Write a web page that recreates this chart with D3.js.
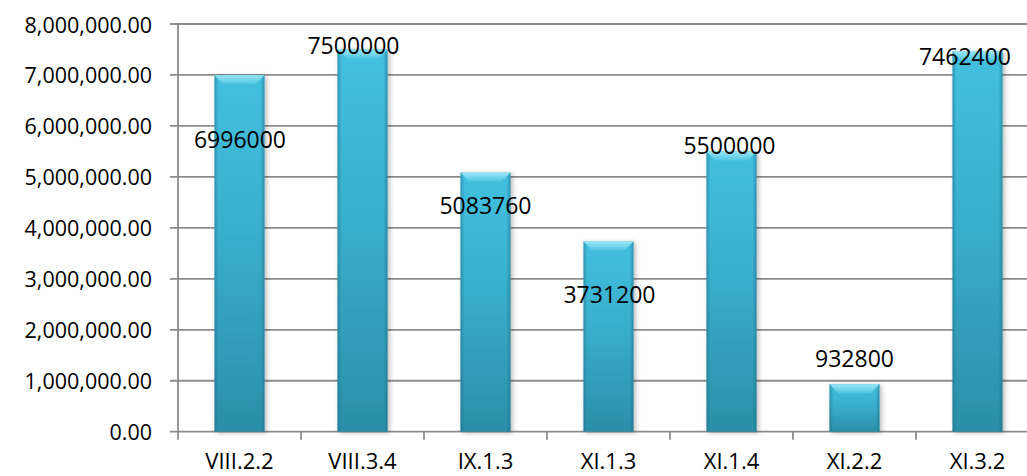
<!DOCTYPE html>
<html>
<head>
<meta charset="utf-8">
<script src="https://cdn.jsdelivr.net/npm/d3@7"></script>
<style>
  html, body { margin: 0; padding: 0; background: #fff; overflow: hidden; }
  svg { display: block; }
  text { font-family: "Open Sans", "Noto Sans", sans-serif; fill: #000; }
</style>
</head>
<body>
<svg id="chart" width="1027" height="476"></svg>
<script>
// ---- data ----
const categories = ["VIII.2.2", "VIII.3.4", "IX.1.3", "XI.1.3", "XI.1.4", "XI.2.2", "XI.3.2"];
const values = [6996000, 7500000, 5083760, 3731200, 5500000, 932800, 7462400];
const yTicks = [0, 1000000, 2000000, 3000000, 4000000, 5000000, 6000000, 7000000, 8000000];

// ---- layout (label nudges in px, as placed in the original) ----
const labelNudge = [[0.5, 64], [-9, -4], [0, 32], [1, 52.5], [-2, -6.5], [0, -26], [-12.5, 5]];

const W = 1027, H = 476;
const plot = { left: 178, right: 1039, top: 24, bottom: 431.7 };

const svg = d3.select("#chart");
const defs = svg.append("defs");

const grad = defs.append("linearGradient").attr("id", "barGrad")
  .attr("x1", 0).attr("y1", 0).attr("x2", 0).attr("y2", 1);
grad.append("stop").attr("offset", "0%").attr("stop-color", "#43c0df");
grad.append("stop").attr("offset", "45%").attr("stop-color", "#39aecc");
grad.append("stop").attr("offset", "100%").attr("stop-color", "#2b8ea8");

const gradH = defs.append("linearGradient").attr("id", "barSide")
  .attr("x1", 0).attr("y1", 0).attr("x2", 1).attr("y2", 0);
gradH.append("stop").attr("offset", "0%").attr("stop-color", "#1f6f86").attr("stop-opacity", 0.5);
gradH.append("stop").attr("offset", "8%").attr("stop-color", "#1f6f86").attr("stop-opacity", 0.0);
gradH.append("stop").attr("offset", "92%").attr("stop-color", "#1f6f86").attr("stop-opacity", 0.0);
gradH.append("stop").attr("offset", "100%").attr("stop-color", "#1f6f86").attr("stop-opacity", 0.55);

const gradTop = defs.append("linearGradient").attr("id", "barTop")
  .attr("x1", 0).attr("y1", 0).attr("x2", 0).attr("y2", 1);
gradTop.append("stop").attr("offset", "0%").attr("stop-color", "#9ae6f6");
gradTop.append("stop").attr("offset", "100%").attr("stop-color", "#4fc6e3");

const shadow = defs.append("filter").attr("id", "shadow")
  .attr("x", "-20%").attr("y", "-5%").attr("width", "150%").attr("height", "115%");
shadow.append("feDropShadow").attr("dx", 2).attr("dy", 1).attr("stdDeviation", 2.5)
  .attr("flood-color", "#000").attr("flood-opacity", 0.28);

const x = d3.scaleBand().domain(categories).range([plot.left, plot.right]).padding(0);
const y = d3.scaleLinear().domain([0, 8000000]).range([plot.bottom, plot.top]);

const gridColor = "#8c8c8c";

// gridlines
svg.append("g").selectAll("line").data(yTicks).join("line")
  .attr("x1", plot.left - 8).attr("x2", plot.right)
  .attr("y1", d => y(d)).attr("y2", d => y(d))
  .attr("stroke", gridColor).attr("stroke-width", 1.8);

// y axis line
svg.append("line").attr("x1", plot.left).attr("x2", plot.left)
  .attr("y1", plot.top).attr("y2", plot.bottom)
  .attr("stroke", gridColor).attr("stroke-width", 1.8);

// y labels
const fmt = d3.format(",.2f");
svg.append("g").selectAll("text").data(yTicks).join("text")
  .attr("x", 152).attr("y", d => y(d))
  .attr("text-anchor", "end").attr("dominant-baseline", "central")
  .attr("font-size", 21.5)
  .text(d => fmt(d));

// x axis ticks (band boundaries)
const bounds = categories.map(c => x(c)).concat([x(categories[categories.length - 1]) + x.bandwidth()]);
svg.append("g").selectAll("line").data(bounds).join("line")
  .attr("x1", d => d).attr("x2", d => d)
  .attr("y1", plot.bottom).attr("y2", plot.bottom + 8)
  .attr("stroke", gridColor).attr("stroke-width", 1.8);

// bars
const barW = x.bandwidth() * 0.4065;
const bars = svg.append("g").selectAll("g").data(values).join("g")
  .attr("transform", (d, i) => `translate(${x(categories[i]) + x.bandwidth() / 2 - barW / 2},0)`);

bars.append("rect")
  .attr("x", 0).attr("y", d => y(d))
  .attr("width", barW).attr("height", d => y(0) - y(d))
  .attr("fill", "url(#barGrad)").attr("filter", "url(#shadow)");
bars.append("rect")
  .attr("x", 0).attr("y", d => y(d))
  .attr("width", barW).attr("height", d => y(0) - y(d))
  .attr("fill", "url(#barSide)");
bars.append("polygon")
  .attr("points", d => {
    const t = y(d), b = 9;
    return `0,${t} ${barW},${t} ${barW - b},${t + b} ${b},${t + b}`;
  })
  .attr("fill", "url(#barTop)");

// data labels
svg.append("g").selectAll("text").data(values).join("text")
  .attr("x", (d, i) => x(categories[i]) + x.bandwidth() / 2 + labelNudge[i][0])
  .attr("y", (d, i) => y(d) + labelNudge[i][1])
  .attr("text-anchor", "middle").attr("dominant-baseline", "central")
  .attr("font-size", 23)
  .text(d => d);

// x labels
svg.append("g").selectAll("text").data(categories).join("text")
  .attr("x", d => x(d) + x.bandwidth() / 2)
  .attr("y", 469)
  .attr("text-anchor", "middle")
  .attr("font-size", 22)
  .text(d => d);
</script>
</body>
</html>
